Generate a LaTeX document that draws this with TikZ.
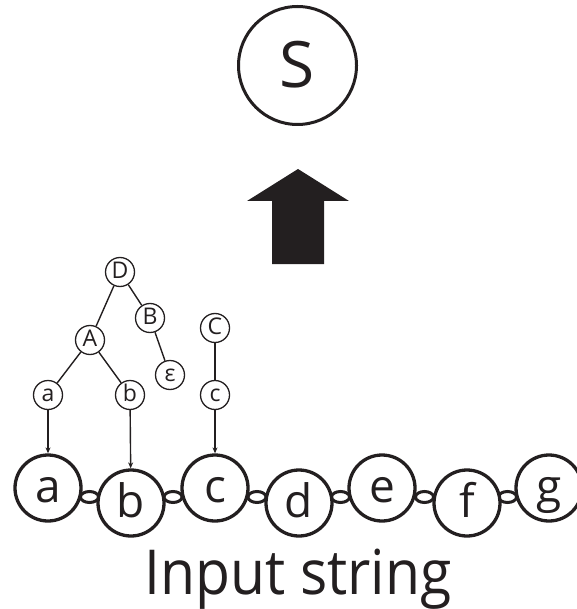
\documentclass[tikz,border=0pt]{standalone}
\usepackage{fontspec}
\usetikzlibrary{arrows.meta}
\setmainfont{Open Sans}
\definecolor{ink}{HTML}{231F20}
\begin{document}
\begin{tikzpicture}[x=1pt,y=-1pt,
  big/.style={circle,draw=ink,line width=3.3pt,fill=white,minimum size=66pt,inner sep=0pt,
    text height=28pt,text depth=0pt,font=\fontsize{46}{50}\selectfont,text=ink},
  small/.style={circle,draw=ink,line width=1.3pt,fill=white,minimum size=29pt,inner sep=0pt,
    text height=12pt,text depth=0pt,font=\fontsize{23}{26}\selectfont,text=ink},
  top/.style={circle,draw=ink,line width=3pt,minimum size=118pt,inner sep=0pt,
    text height=45pt,text depth=0pt,font=\fontsize{64}{70}\selectfont,text=ink},
  link/.style={draw=ink,line width=3pt},
  edge/.style={draw=ink,line width=1.4pt},
  feed/.style={draw=ink,line width=1.4pt,-{Stealth[length=6pt,width=5pt]}},
  bigarrow/.style={fill=ink,draw=none}]
\useasboundingbox (0,0) rectangle (576,609);
% links between input symbols
\foreach \x/\y in {89.5/497,173/497,257/497,340.5/497,424.5/497,507.5/497}
  \draw[link] (\x,\y) ellipse [x radius=9, y radius=5.5];
% input string
\node[big] (ia) at (48,488) {a};
\node[big] (ib) at (131,503) {b};
\node[big] (ic) at (215,488) {c};
\node[big] (id) at (299,503) {d};
\node[big] (ie) at (382,488) {e};
\node[big] (if) at (467,503) {f};
\node[big] (ig) at (549,488) {g};
\node[font=\fontsize{62}{70}\selectfont,text=ink,anchor=base,inner sep=0pt] (lbl) at (298,594) {\scalebox{0.92}[1]{Input string}};
% parse fragments
\node[small] (D) at (120,272) {D};
\node[small] (B) at (150,318) {B};
\node[small] (A) at (90,340) {A};
\node[small] (eps) at (170,375) {ε};
\node[small] (sa) at (48,395) {a};
\node[small] (sb) at (130,395) {b};
\node[small] (C) at (215,328) {C};
\node[small] (sc) at (215,395) {c};
\draw[edge] (D) -- (A);
\draw[edge] (D) -- (B);
\draw[edge] (B) -- (eps);
\draw[edge] (A) -- (sa);
\draw[edge] (A) -- (sb);
\draw[edge] (C) -- (sc);
\draw[feed] (sa) -- (ia);
\draw[feed] (sb) -- (ib);
\draw[feed] (sc) -- (ic);
% goal
\node[top] (S) at (297.5,65.5) {S};
\fill[bigarrow] (298,169) -- (349,201) -- (324,201) -- (324,264) -- (272,264) -- (272,201) -- (247,201) -- cycle;
\end{tikzpicture}
\end{document}
